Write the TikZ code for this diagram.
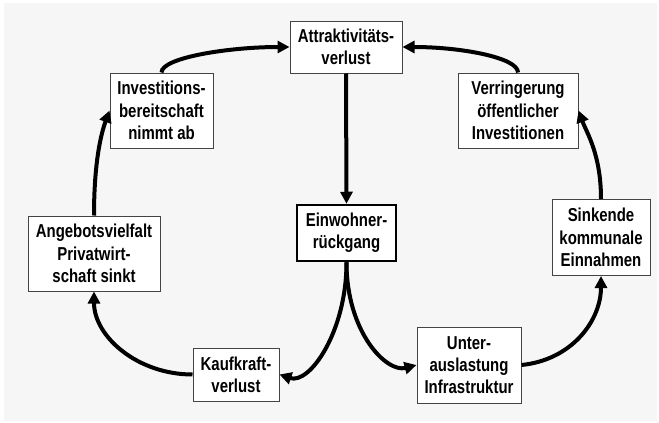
\documentclass[tikz,border=0pt]{standalone}
\usepackage{fontspec}
\newfontfamily\diagfont{Liberation Sans Bold}[FakeStretch=0.80]
\usetikzlibrary{arrows.meta}
\definecolor{bggray}{HTML}{F6F6F6}
\definecolor{boxline}{HTML}{444444}
\begin{document}
\begin{tikzpicture}[x=1pt,y=1pt,
  box/.style={draw=boxline, line width=1pt, fill=white, align=center, inner sep=0pt,
    font=\diagfont\fontsize{18.7}{22.3}\selectfont},
  mainbox/.style={box, draw=black, line width=2.5pt},
  flow/.style={line width=4pt, -{Triangle[length=12pt,width=12pt]}}]
\useasboundingbox (0,0) rectangle (659,-423);
\fill[bggray] (4,-3) rectangle (657,-421);
% nodes
\node[box, minimum width=112pt, minimum height=52pt] (A) at (346,-47) {Attraktivitäts-\\verlust};
\node[box, minimum width=103pt, minimum height=75pt] (I) at (161.5,-110.5) {Investitions-\\bereitschaft\\nimmt ab};
\node[box, minimum width=120pt, minimum height=75pt] (V) at (518,-110.5) {Verringerung\\öffentlicher\\Investitionen};
\node[mainbox, minimum width=99pt, minimum height=56pt] (E) at (346.5,-233) {Einwohner-\\rückgang};
\node[box, minimum width=132pt, minimum height=75pt] (G) at (94,-253.5) {Angebotsvielfalt\\Privatwirt-\\schaft sinkt};
\node[box, minimum width=86pt, minimum height=53pt] (K) at (236,-374.5) {Kaufkraft-\\verlust};
\node[box, minimum width=104pt, minimum height=76pt] (U) at (469,-365) {Unter-\\auslastung\\Infrastruktur};
\node[box, minimum width=98pt, minimum height=76pt] (S) at (601,-237.5) {Sinkende\\kommunale\\Einnahmen};
% connectors
\draw[flow] (A.south) -- (E.north);
\draw[flow] (E.south) .. controls +(0,-70) and +(30,-10) .. (K.east);
\draw[flow] (E.south) .. controls +(0,-70) and +(-30,-8) .. (U.west);
\draw[flow] (K.west) .. controls +(-55,0) and +(0,-45) .. (G.south);
\draw[flow] (G.north) .. controls +(0,55) and +(-8,-22) .. (I.west);
\draw[flow] (I.north) .. controls +(0,15) and +(-60,0) .. (A.west);
\draw[flow] (U.east) .. controls +(50,5) and +(0,-45) .. (S.south);
\draw[flow] (S.north) .. controls +(0,45) and +(8,-22) .. (V.east);
\draw[flow] (V.north) .. controls +(0,15) and +(58,0) .. (A.east);
\end{tikzpicture}
\end{document}
